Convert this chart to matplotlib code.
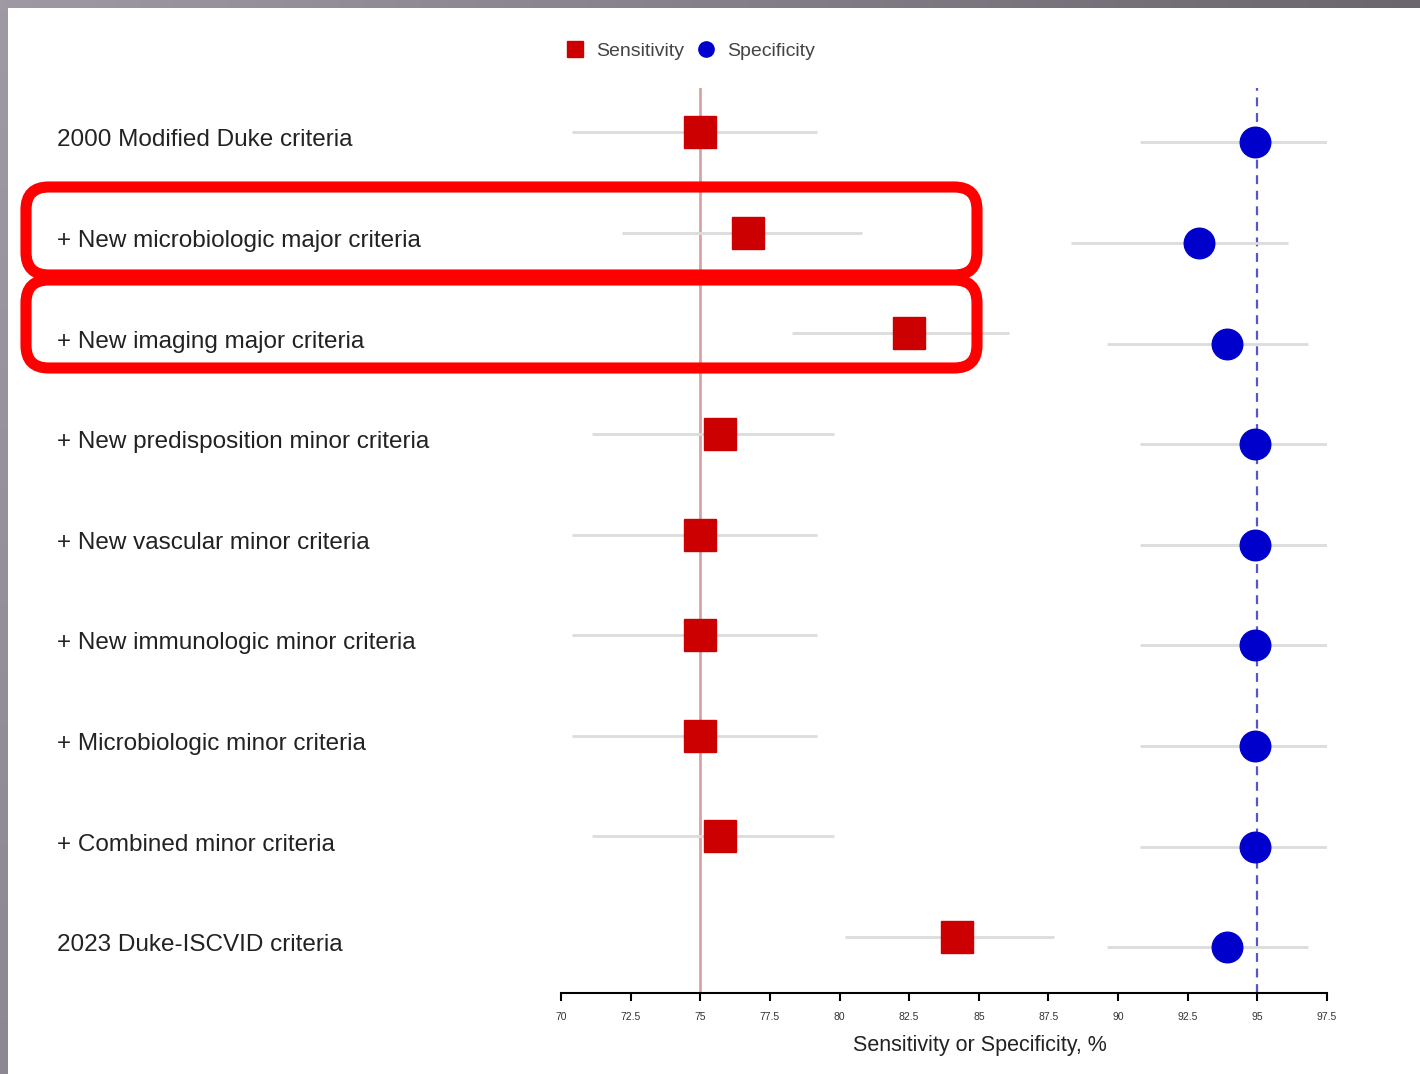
# forest plot: sensitivity / specificity of Duke criteria variants
import numpy as np
import matplotlib.pyplot as plt
from matplotlib.lines import Line2D
from matplotlib.patches import FancyBboxPatch
import matplotlib.transforms as mtransforms

plt.rcParams['font.family'] = ['Liberation Sans', 'DejaVu Sans']

# ====== Data ======
labels = [
    "2000 Modified Duke criteria",
    "+ New microbiologic major criteria",
    "+ New imaging major criteria",
    "+ New predisposition minor criteria",
    "+ New vascular minor criteria",
    "+ New immunologic minor criteria",
    "+ Microbiologic minor criteria",
    "+ Combined minor criteria",
    "2023 Duke-ISCVID criteria",
]
sens = [75.0, 76.7, 82.5, 75.7, 75.0, 75.0, 75.0, 75.7, 84.2]
sens_lo = [70.4, 72.2, 78.3, 71.1, 70.4, 70.4, 70.4, 71.1, 80.2]
sens_hi = [79.2, 80.8, 86.1, 79.8, 79.2, 79.2, 79.2, 79.8, 87.7]
spec = [94.9, 92.9, 93.9, 94.9, 94.9, 94.9, 94.9, 94.9, 93.9]
spec_lo = [90.8, 88.3, 89.6, 90.8, 90.8, 90.8, 90.8, 90.8, 89.6]
spec_hi = [97.5, 96.1, 96.8, 97.5, 97.5, 97.5, 97.5, 97.5, 96.8]
xticks = [70, 72.5, 75, 77.5, 80, 82.5, 85, 87.5, 90, 92.5, 95, 97.5]

W, H = 1420, 1074
fig = plt.figure(figsize=(W / 100, H / 100), dpi=100, facecolor="white")

# --- grey frame of the screenshot ---
top = fig.add_axes([0, 1 - 8 / H, 1, 8 / H])
grad = np.linspace(0, 1, 256)[None, :, None]
c0 = np.array([0.62, 0.60, 0.64])
c1 = np.array([0.42, 0.40, 0.43])
top.imshow(c0 + (c1 - c0) * grad, aspect="auto", extent=[0, 1, 0, 1])
top.axis("off")
left = fig.add_axes([0, 0, 7 / W, 1 - 8 / H])
gradv = np.linspace(0, 1, 256)[:, None, None]
c2 = np.array([0.55, 0.53, 0.57])
left.imshow(c0 + (c2 - c0) * gradv, aspect="auto", extent=[0, 1, 0, 1])
left.axis("off")

# ====== Main axes ======
ax = fig.add_axes([561 / W, 1 - 993 / H, (1327 - 561) / W, (993 - 88) / H])
n = len(labels)
y = np.arange(n)
ys = y + 0.44
yp = y + 0.54

ax.axvline(75, color="#d9a3a3", lw=2, zorder=1)
ax.axvline(95, color="#5555cc", lw=1.6, ls=(0, (4, 3)), zorder=1)

ax.hlines(ys, sens_lo, sens_hi, color="#dcdcdc", lw=2, zorder=2)
ax.hlines(yp, spec_lo, spec_hi, color="#dcdcdc", lw=2, zorder=2)
ax.plot(sens, ys, ls="none", marker="s", ms=23, color="#cc0000", zorder=3)
ax.plot(spec, yp, ls="none", marker="o", ms=22, color="#0000cc", zorder=3)

ax.set_xlim(70, 97.5)
ax.set_ylim((993 - 88) / 100.6, 0)
ax.set_xticks(xticks)
ax.set_xticklabels([f"{t:g}" for t in xticks], fontsize=7.5, color="#333333")
ax.tick_params(axis="x", length=6, width=1.5, pad=8)
ax.set_yticks([])
for s in ("top", "right", "left"):
    ax.spines[s].set_visible(False)
ax.spines["bottom"].set_linewidth(1.5)

# row labels
trans = mtransforms.blended_transform_factory(fig.transFigure, ax.transData)
for i, lab in enumerate(labels):
    ax.text(57 / W, y[i] + 0.52, lab, transform=trans, ha="left", va="center",
            fontsize=17.5, color="#222222")

fig.text(980 / W, 1 - 1045 / H, "Sensitivity or Specificity, %", ha="center",
         va="center", fontsize=15.5, color="#222222")

# legend
handles = [
    Line2D([], [], ls="none", marker="s", ms=11, color="#cc0000"),
    Line2D([], [], ls="none", marker="o", ms=11, color="#0000cc"),
]
leg = fig.legend(handles, ["Sensitivity", "Specificity"], loc="center",
                 bbox_to_anchor=(690 / W, 1 - 51 / H), ncol=2, frameon=False,
                 fontsize=14, handlelength=1.0, handletextpad=0.6,
                 columnspacing=0.6)
for t in leg.get_texts():
    t.set_color("#444444")

# highlight boxes around rows 2 and 3
box_y = [(187, 275), (280, 368)]
for y0, y1 in box_y:
    p = FancyBboxPatch((26 / W, 1 - y1 / H), (977 - 26) / W, (y1 - y0) / H,
                       boxstyle="round,pad=0,rounding_size=0.016",
                       transform=fig.transFigure, fill=False,
                       edgecolor="#ff0000", lw=8, zorder=10,
                       mutation_aspect=W / H)
    fig.patches.append(p)

fig.savefig("out.png", dpi=100, facecolor="white")
